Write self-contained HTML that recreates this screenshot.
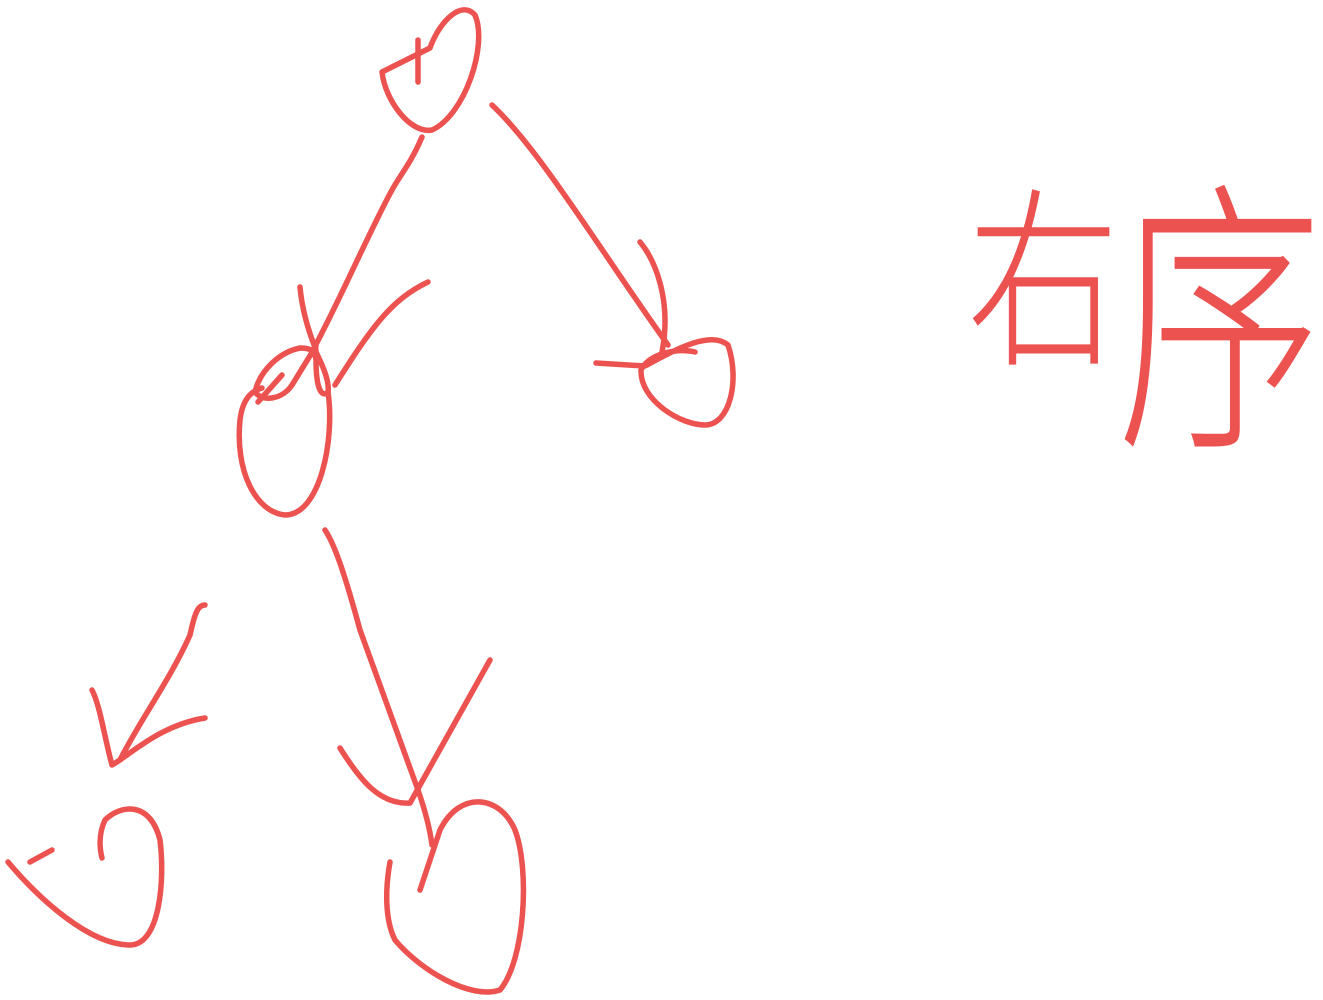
<!DOCTYPE html>
<html><head><meta charset="utf-8"><style>
html,body{margin:0;padding:0;background:#fff;width:1323px;height:1000px;overflow:hidden}
svg{display:block}
path{fill:none;stroke:#ec5250;stroke-width:5.5;stroke-linecap:round;stroke-linejoin:round}
</style></head><body>
<svg width="1323" height="1000" viewBox="0 0 1323 1000">
<g>
<path d="M382,72 L430,48 C440,20 462,0 475,15 C488,45 465,115 432,130 C410,134 385,100 382,72"/>
<path d="M418,40 L418,82"/>
</g>
<g>
<path d="M422,137 C410,165 400,175 392,190 C370,230 340,300 314,348 C320,360 330,380 328,392 C322,398 316,390 316,360 C315,350 310,348 300,348 C280,352 260,370 255,392 C262,402 282,400 292,385 L316,346"/>
<path d="M300,287 C302,310 308,330 316,350"/>
<path d="M428,282 C390,300 370,330 335,385"/>
<path d="M328,392 C335,440 320,515 285,515 C255,512 235,470 240,420 C243,395 255,390 262,388"/>
<path d="M258,402 L282,375"/>
</g>
<g>
<path d="M492,105 C540,150 600,250 668,345"/>
<path d="M640,242 C655,260 672,300 662,352"/>
<path d="M596,363 L645,366 C675,350 710,330 728,345 C740,380 730,425 705,425 C680,425 640,400 641,370 C650,352 680,348 695,352"/>
</g>
<g>
<path d="M325,530 C335,545 345,575 360,630 L418,790 C425,810 430,830 432,845"/>
<path d="M340,748 C360,780 380,805 410,803 L490,660"/>
<path d="M420,890 L440,830 C460,790 500,795 515,830 C530,870 525,960 500,990 C470,1000 420,970 395,940 C385,920 385,890 390,862"/>
</g>
<g>
<path d="M205,605 C198,605 195,612 190,635 C170,680 140,720 120,760"/>
<path d="M92,690 C100,705 105,740 112,765 C130,755 160,725 205,718"/>
<path d="M30,862 L52,850"/>
<path d="M8,862 C40,900 90,945 130,945 C160,945 165,880 160,840 C150,800 120,805 105,820 C98,835 100,850 102,858"/>
</g>
<text transform="translate(967,350) scale(0.87,1.1)" font-size="175" fill="#ec5250" font-weight="300" font-family="'Liberation Sans','Noto Sans CJK SC',sans-serif">右</text>
<text transform="translate(1117,425) scale(1.0,1.4)" font-size="205" fill="#ec5250" font-weight="300" font-family="'Liberation Sans','Noto Sans CJK SC',sans-serif">序</text>
</svg>
</body></html>
